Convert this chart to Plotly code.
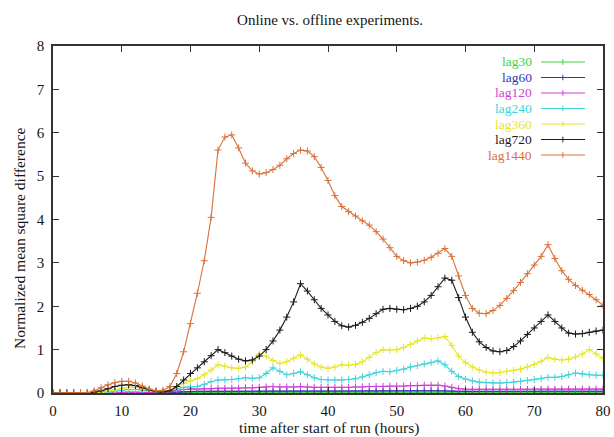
import plotly.graph_objects as go

hours = list(range(0, 81))

lag30 = [0]*17 + [0.005, 0.01, 0.012, 0.014, 0.015, 0.015, 0.016, 0.016, 0.016, 0.016, 0.017, 0.017,
         0.017, 0.018, 0.018, 0.018, 0.018, 0.018, 0.018, 0.018, 0.018, 0.018, 0.018, 0.018, 0.018,
         0.018, 0.018, 0.018, 0.018, 0.018, 0.019, 0.019, 0.019, 0.019, 0.019, 0.019, 0.019, 0.019,
         0.019, 0.018, 0.017, 0.016, 0.016, 0.016, 0.016, 0.016, 0.016, 0.016, 0.016, 0.016, 0.016,
         0.016, 0.016, 0.016, 0.016, 0.016, 0.016, 0.016, 0.016, 0.016, 0.016, 0.016, 0.016, 0.016]

lag60 = [0]*9 + [0.005, 0.01, 0.012, 0.012, 0.01, 0.007, 0.004, 0.004, 0.01, 0.02, 0.03, 0.035,
         0.037, 0.038, 0.039, 0.04, 0.04, 0.04, 0.041, 0.041, 0.042, 0.043, 0.044, 0.045, 0.045,
         0.045, 0.045, 0.046, 0.045, 0.045, 0.045, 0.045, 0.045, 0.045, 0.045, 0.046, 0.046, 0.047,
         0.047, 0.048, 0.048, 0.049, 0.05, 0.05, 0.05, 0.051, 0.051, 0.052, 0.05, 0.045, 0.04, 0.038,
         0.037, 0.036, 0.036, 0.036, 0.036, 0.037, 0.037, 0.037, 0.038, 0.038, 0.039, 0.04, 0.04,
         0.04, 0.04, 0.04, 0.04, 0.04, 0.04, 0.04, 0.04]

lag120 = [0]*8 + [0.005, 0.01, 0.015, 0.02, 0.02, 0.016, 0.01, 0.006, 0.005, 0.03, 0.06, 0.08,
          0.09, 0.09, 0.10, 0.10, 0.11, 0.11, 0.11, 0.11, 0.12, 0.12, 0.13, 0.14, 0.15, 0.14,
          0.14, 0.14, 0.15, 0.14, 0.13, 0.13, 0.13, 0.13, 0.13, 0.13, 0.14, 0.14, 0.15, 0.15,
          0.15, 0.16, 0.16, 0.16, 0.17, 0.17, 0.18, 0.18, 0.18, 0.16, 0.13, 0.10, 0.09, 0.085,
          0.085, 0.085, 0.085, 0.085, 0.085, 0.085, 0.085, 0.085, 0.09, 0.09, 0.09, 0.09, 0.09,
          0.09, 0.09, 0.09, 0.09, 0.09, 0.09]

lag240 = [0]*8 + [0.02, 0.04, 0.06, 0.08, 0.08, 0.07, 0.05, 0.03, 0.02, 0.05, 0.10, 0.13, 0.14,
          0.15, 0.20, 0.26, 0.30, 0.30, 0.31, 0.33, 0.35, 0.34, 0.35, 0.45, 0.58, 0.50, 0.42,
          0.45, 0.49, 0.42, 0.35, 0.31, 0.30, 0.30, 0.30, 0.31, 0.33, 0.37, 0.42, 0.47, 0.50,
          0.49, 0.52, 0.55, 0.60, 0.63, 0.67, 0.70, 0.74, 0.65, 0.50, 0.38, 0.32, 0.28, 0.25,
          0.24, 0.23, 0.23, 0.24, 0.25, 0.27, 0.29, 0.31, 0.33, 0.36, 0.36, 0.38, 0.42, 0.46,
          0.44, 0.42, 0.41, 0.41]

lag360 = [0]*7 + [0.02, 0.05, 0.08, 0.11, 0.13, 0.13, 0.11, 0.07, 0.04, 0.03, 0.07, 0.15, 0.22,
          0.28, 0.33, 0.42, 0.53, 0.65, 0.62, 0.58, 0.57, 0.60, 0.72, 0.90, 0.85, 0.75, 0.68,
          0.72, 0.80, 0.88, 0.78, 0.67, 0.60, 0.57, 0.60, 0.65, 0.64, 0.66, 0.72, 0.82, 0.93,
          1.00, 0.99, 1.00, 1.05, 1.12, 1.20, 1.27, 1.25, 1.27, 1.30, 1.10, 0.85, 0.70, 0.60,
          0.53, 0.48, 0.46, 0.47, 0.50, 0.52, 0.55, 0.60, 0.66, 0.73, 0.82, 0.78, 0.76, 0.78,
          0.83, 0.90, 1.00, 0.90, 0.80]

lag720 = [0]*6 + [0.02, 0.05, 0.10, 0.15, 0.18, 0.19, 0.17, 0.12, 0.07, 0.03, 0.02, 0.05, 0.15,
          0.30, 0.45, 0.58, 0.72, 0.86, 1.00, 0.93, 0.85, 0.78, 0.74, 0.76, 0.85, 1.00, 1.20,
          1.45, 1.75, 2.10, 2.52, 2.35, 2.15, 1.95, 1.80, 1.65, 1.55, 1.52, 1.56, 1.63, 1.72,
          1.83, 1.93, 1.95, 1.93, 1.92, 1.95, 2.00, 2.10, 2.25, 2.45, 2.65, 2.60, 2.20, 1.75,
          1.40, 1.18, 1.05, 0.97, 0.95, 0.98, 1.07, 1.20, 1.35, 1.50, 1.65, 1.80, 1.65, 1.50,
          1.38, 1.36, 1.37, 1.40, 1.43, 1.45]

lag1440 = [0, 0, 0, 0, 0, 0.01, 0.05, 0.12, 0.19, 0.24, 0.27, 0.27, 0.23, 0.16, 0.09, 0.05,
           0.06, 0.15, 0.45, 0.95, 1.60, 2.30, 3.05, 4.05, 5.60, 5.90, 5.95, 5.65, 5.30, 5.12,
           5.05, 5.08, 5.15, 5.25, 5.40, 5.52, 5.60, 5.58, 5.45, 5.20, 4.90, 4.55, 4.30, 4.18,
           4.08, 3.97, 3.87, 3.72, 3.55, 3.35, 3.15, 3.05, 3.00, 3.02, 3.06, 3.13, 3.22, 3.33,
           3.15, 2.70, 2.25, 1.95, 1.84, 1.83, 1.90, 2.02, 2.18, 2.36, 2.55, 2.75, 2.95, 3.15,
           3.42, 3.10, 2.82, 2.62, 2.48, 2.37, 2.27, 2.15, 2.02]

series_names = ["lag30", "lag60", "lag120", "lag240", "lag360", "lag720", "lag1440"]
series_values = [lag30, lag60, lag120, lag240, lag360, lag720, lag1440]
series_colors = ["#3ed43e", "#3434b8", "#d43ed4", "#3ed4d9", "#e6e626", "#1a1a1a", "#d9713a"]

x_ticks = [0, 10, 20, 30, 40, 50, 60, 70, 80]
y_ticks = [0, 1, 2, 3, 4, 5, 6, 7, 8]

FONT = "Liberation Serif, Times New Roman, serif"
TXT = "#151515"

fig = go.Figure()
for name, vals, col in zip(series_names, series_values, series_colors):
    fig.add_trace(go.Scatter(
        x=hours, y=vals, name=name, mode="lines+markers",
        line=dict(color=col, width=1.1),
        marker=dict(symbol="cross-thin", size=5, line=dict(color=col, width=1)),
        showlegend=False,
    ))

# gnuplot-style legend: right-aligned text, sample line to the right
top = 0.954
step = 0.0447
for i, (name, col) in enumerate(zip(series_names, series_colors)):
    yy = top - i * step
    fig.add_annotation(x=0.8745, y=yy, xref="paper", yref="paper", text=name,
                       showarrow=False, xanchor="right", yanchor="middle",
                       font=dict(family=FONT, size=13.5, color=col))
    fig.add_shape(type="line", xref="paper", yref="paper", x0=0.8873, x1=0.9673, y0=yy, y1=yy,
                  line=dict(color=col, width=1.1))
    fig.add_shape(type="line", xref="paper", yref="paper", x0=0.927, x1=0.927,
                  y0=yy - 0.008, y1=yy + 0.008, line=dict(color=col, width=1))

# axis titles placed as in the reference
fig.add_annotation(x=-0.06, y=0.444, xref="paper", yref="paper",
                   text="Normalized mean square difference", textangle=-90,
                   showarrow=False, xanchor="center", yanchor="middle",
                   font=dict(family=FONT, size=15.5, color=TXT))
fig.add_annotation(x=0.502, y=-0.1, xref="paper", yref="paper",
                   text="time after start of run (hours)",
                   showarrow=False, xanchor="center", yanchor="middle",
                   font=dict(family=FONT, size=15.5, color=TXT))

axis_common = dict(
    showline=True, linecolor="#333333", linewidth=1.5, mirror="ticks",
    ticks="inside", ticklen=6, tickcolor="#333333", tickwidth=1,
    showgrid=False, zeroline=False, automargin=False,
    tickfont=dict(family=FONT, size=15, color=TXT),
)

fig.update_layout(
    width=614, height=437,
    margin=dict(l=53, r=11, t=46, b=44, autoexpand=False),
    paper_bgcolor="white", plot_bgcolor="white",
    title=dict(text="Online vs. offline experiments.", x=0.5375, xanchor="center",
               y=0.954, yanchor="middle", font=dict(family=FONT, size=15, color=TXT)),
    xaxis=dict(range=[0, 80], tickvals=x_ticks, ticklabelstandoff=3, **axis_common),
    yaxis=dict(range=[0, 8], tickvals=y_ticks, ticklabelstandoff=4, **axis_common),
)

fig.write_html(
    "out.html",
    config={"displayModeBar": False},
    post_script=(
        "document.body.style.margin='0';"
        "document.body.style.overflow='hidden';"
        "document.documentElement.style.overflow='hidden';"
    ),
)
